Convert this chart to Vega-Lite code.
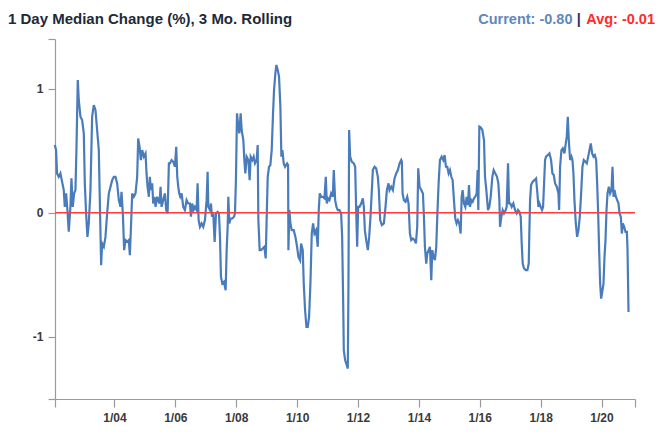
{
  "$schema": "https://vega.github.io/schema/vega-lite/v6.json",
  "width": 580,
  "height": 360,
  "autosize": {"type": "none"},
  "padding": {"left": 55, "top": 39, "right": 28, "bottom": 43},
  "background": "white",
  "config": {
    "view": {"stroke": null},
    "font": "Liberation Sans"
  },
  "layer": [
    {
      "data": {"values": [
        {"year": 2002.038, "value": 0.546}, {"year": 2002.082, "value": 0.505}, {"year": 2002.114, "value": 0.317}, {"year": 2002.169, "value": 0.290}, {"year": 2002.224, "value": 0.317}, {"year": 2002.279, "value": 0.250}, {"year": 2002.334, "value": 0.183}, {"year": 2002.367, "value": 0.048}, {"year": 2002.411, "value": 0.156}, {"year": 2002.454, "value": 0.022}, {"year": 2002.498, "value": -0.153}, {"year": 2002.553, "value": 0.048}, {"year": 2002.586, "value": 0.277}, {"year": 2002.630, "value": 0.048}, {"year": 2002.674, "value": 0.156}, {"year": 2002.718, "value": 0.183}, {"year": 2002.750, "value": 0.505}, {"year": 2002.794, "value": 1.070}, {"year": 2002.827, "value": 0.909}, {"year": 2002.882, "value": 0.774}, {"year": 2002.937, "value": 0.747}, {"year": 2002.992, "value": 0.640}, {"year": 2003.025, "value": 0.237}, {"year": 2003.068, "value": -0.005}, {"year": 2003.112, "value": -0.194}, {"year": 2003.156, "value": -0.086}, {"year": 2003.211, "value": 0.183}, {"year": 2003.266, "value": 0.774}, {"year": 2003.321, "value": 0.868}, {"year": 2003.375, "value": 0.828}, {"year": 2003.430, "value": 0.667}, {"year": 2003.485, "value": 0.505}, {"year": 2003.518, "value": 0.102}, {"year": 2003.562, "value": -0.422}, {"year": 2003.595, "value": -0.247}, {"year": 2003.650, "value": -0.274}, {"year": 2003.704, "value": -0.194}, {"year": 2003.759, "value": -0.005}, {"year": 2003.814, "value": 0.156}, {"year": 2003.869, "value": 0.210}, {"year": 2003.924, "value": 0.263}, {"year": 2003.979, "value": 0.290}, {"year": 2004.033, "value": 0.290}, {"year": 2004.088, "value": 0.237}, {"year": 2004.143, "value": 0.102}, {"year": 2004.198, "value": 0.048}, {"year": 2004.231, "value": 0.169}, {"year": 2004.275, "value": -0.005}, {"year": 2004.318, "value": -0.301}, {"year": 2004.362, "value": -0.220}, {"year": 2004.417, "value": -0.234}, {"year": 2004.472, "value": -0.220}, {"year": 2004.505, "value": -0.341}, {"year": 2004.538, "value": -0.140}, {"year": 2004.582, "value": 0.156}, {"year": 2004.636, "value": 0.129}, {"year": 2004.691, "value": 0.156}, {"year": 2004.746, "value": 0.290}, {"year": 2004.779, "value": 0.599}, {"year": 2004.823, "value": 0.532}, {"year": 2004.867, "value": 0.425}, {"year": 2004.911, "value": 0.505}, {"year": 2004.965, "value": 0.452}, {"year": 2005.020, "value": 0.478}, {"year": 2005.053, "value": 0.317}, {"year": 2005.086, "value": 0.210}, {"year": 2005.130, "value": 0.129}, {"year": 2005.163, "value": 0.290}, {"year": 2005.196, "value": 0.183}, {"year": 2005.240, "value": 0.237}, {"year": 2005.272, "value": 0.075}, {"year": 2005.316, "value": 0.129}, {"year": 2005.349, "value": 0.048}, {"year": 2005.404, "value": 0.129}, {"year": 2005.437, "value": 0.102}, {"year": 2005.481, "value": 0.075}, {"year": 2005.514, "value": 0.210}, {"year": 2005.547, "value": 0.048}, {"year": 2005.601, "value": 0.102}, {"year": 2005.656, "value": 0.156}, {"year": 2005.700, "value": 0.022}, {"year": 2005.744, "value": -0.005}, {"year": 2005.788, "value": 0.398},
        {"year": 2005.821, "value": 0.398}, {"year": 2005.876, "value": 0.425}, {"year": 2005.930, "value": 0.411}, {"year": 2005.985, "value": 0.371}, {"year": 2006.029, "value": 0.532}, {"year": 2006.062, "value": 0.290}, {"year": 2006.095, "value": 0.210}, {"year": 2006.128, "value": 0.156}, {"year": 2006.161, "value": 0.129}, {"year": 2006.205, "value": 0.156}, {"year": 2006.259, "value": 0.048}, {"year": 2006.314, "value": 0.022}, {"year": 2006.369, "value": 0.102}, {"year": 2006.424, "value": 0.075}, {"year": 2006.479, "value": 0.075}, {"year": 2006.512, "value": -0.032}, {"year": 2006.555, "value": 0.075}, {"year": 2006.599, "value": 0.022}, {"year": 2006.643, "value": 0.048}, {"year": 2006.698, "value": 0.022}, {"year": 2006.731, "value": 0.237}, {"year": 2006.764, "value": -0.059}, {"year": 2006.808, "value": -0.113}, {"year": 2006.862, "value": -0.086}, {"year": 2006.917, "value": -0.113}, {"year": 2006.972, "value": -0.059}, {"year": 2007.027, "value": 0.102}, {"year": 2007.060, "value": 0.331}, {"year": 2007.082, "value": 0.048}, {"year": 2007.137, "value": 0.022}, {"year": 2007.170, "value": 0.075}, {"year": 2007.202, "value": -0.032}, {"year": 2007.246, "value": -0.005}, {"year": 2007.290, "value": -0.234}, {"year": 2007.334, "value": -0.005}, {"year": 2007.389, "value": 0.008}, {"year": 2007.433, "value": -0.005}, {"year": 2007.466, "value": -0.194}, {"year": 2007.498, "value": -0.516}, {"year": 2007.542, "value": -0.570}, {"year": 2007.597, "value": -0.556}, {"year": 2007.652, "value": -0.624}, {"year": 2007.685, "value": -0.301}, {"year": 2007.718, "value": -0.113}, {"year": 2007.740, "value": 0.129}, {"year": 2007.773, "value": -0.086}, {"year": 2007.817, "value": -0.046}, {"year": 2007.871, "value": -0.046}, {"year": 2007.926, "value": -0.032}, {"year": 2007.959, "value": -0.005}, {"year": 2007.992, "value": 0.290}, {"year": 2008.025, "value": 0.801}, {"year": 2008.069, "value": 0.694}, {"year": 2008.102, "value": 0.640}, {"year": 2008.145, "value": 0.801}, {"year": 2008.178, "value": 0.667}, {"year": 2008.233, "value": 0.586}, {"year": 2008.266, "value": 0.425}, {"year": 2008.299, "value": 0.317}, {"year": 2008.343, "value": 0.452}, {"year": 2008.398, "value": 0.425}, {"year": 2008.441, "value": 0.263}, {"year": 2008.474, "value": 0.452}, {"year": 2008.529, "value": 0.425}, {"year": 2008.573, "value": 0.452}, {"year": 2008.617, "value": 0.398}, {"year": 2008.672, "value": 0.425}, {"year": 2008.705, "value": 0.546}, {"year": 2008.727, "value": -0.059}, {"year": 2008.770, "value": -0.301}, {"year": 2008.814, "value": -0.301}, {"year": 2008.869, "value": -0.288}, {"year": 2008.924, "value": -0.274}, {"year": 2008.968, "value": -0.368}, {"year": 2009.001, "value": -0.032}, {"year": 2009.034, "value": 0.290}, {"year": 2009.077, "value": 0.371}, {"year": 2009.121, "value": 0.384}, {"year": 2009.165, "value": 0.505}, {"year": 2009.209, "value": 0.801}, {"year": 2009.242, "value": 0.989}, {"year": 2009.286, "value": 1.124}, {"year": 2009.319, "value": 1.191}, {"year": 2009.363, "value": 1.151}, {"year": 2009.406, "value": 1.097}, {"year": 2009.450, "value": 0.855}, {"year": 2009.483, "value": 0.452}, {"year": 2009.516, "value": 0.505}, {"year": 2009.560, "value": 0.398}, {"year": 2009.604, "value": 0.371},
        {"year": 2009.670, "value": 0.398}, {"year": 2009.703, "value": 0.384}, {"year": 2009.714, "value": -0.301}, {"year": 2009.746, "value": 0.022}, {"year": 2009.779, "value": -0.086}, {"year": 2009.823, "value": -0.140}, {"year": 2009.889, "value": -0.140}, {"year": 2009.944, "value": -0.194}, {"year": 2009.999, "value": -0.274}, {"year": 2010.043, "value": -0.355}, {"year": 2010.097, "value": -0.382}, {"year": 2010.130, "value": -0.247}, {"year": 2010.185, "value": -0.301}, {"year": 2010.218, "value": -0.570}, {"year": 2010.262, "value": -0.785}, {"year": 2010.306, "value": -0.919}, {"year": 2010.350, "value": -0.919}, {"year": 2010.393, "value": -0.839}, {"year": 2010.437, "value": -0.570}, {"year": 2010.481, "value": -0.167}, {"year": 2010.525, "value": -0.086}, {"year": 2010.569, "value": -0.167}, {"year": 2010.624, "value": -0.140}, {"year": 2010.678, "value": -0.274}, {"year": 2010.711, "value": 0.022}, {"year": 2010.744, "value": 0.156}, {"year": 2010.788, "value": 0.129}, {"year": 2010.843, "value": 0.129}, {"year": 2010.898, "value": 0.116}, {"year": 2010.942, "value": 0.290}, {"year": 2010.975, "value": 0.075}, {"year": 2011.018, "value": 0.116}, {"year": 2011.062, "value": 0.102}, {"year": 2011.117, "value": 0.156}, {"year": 2011.172, "value": 0.129}, {"year": 2011.205, "value": 0.344}, {"year": 2011.249, "value": 0.102}, {"year": 2011.293, "value": 0.048}, {"year": 2011.336, "value": 0.022}, {"year": 2011.391, "value": 0.022}, {"year": 2011.446, "value": -0.005}, {"year": 2011.479, "value": -0.194}, {"year": 2011.512, "value": -0.704}, {"year": 2011.534, "value": -1.108}, {"year": 2011.578, "value": -1.188}, {"year": 2011.632, "value": -1.228}, {"year": 2011.665, "value": -1.255}, {"year": 2011.687, "value": -0.570}, {"year": 2011.709, "value": 0.667}, {"year": 2011.742, "value": 0.452}, {"year": 2011.797, "value": 0.411}, {"year": 2011.863, "value": 0.398}, {"year": 2011.907, "value": 0.371}, {"year": 2011.940, "value": 0.022}, {"year": 2011.973, "value": -0.274}, {"year": 2012.005, "value": 0.048}, {"year": 2012.049, "value": 0.048}, {"year": 2012.104, "value": 0.075}, {"year": 2012.159, "value": 0.116}, {"year": 2012.192, "value": 0.048}, {"year": 2012.225, "value": -0.140}, {"year": 2012.269, "value": -0.220}, {"year": 2012.323, "value": -0.301}, {"year": 2012.367, "value": -0.194}, {"year": 2012.411, "value": -0.032}, {"year": 2012.455, "value": 0.183}, {"year": 2012.488, "value": 0.344}, {"year": 2012.543, "value": 0.371}, {"year": 2012.597, "value": 0.358}, {"year": 2012.652, "value": 0.290}, {"year": 2012.685, "value": 0.183}, {"year": 2012.729, "value": -0.059}, {"year": 2012.784, "value": -0.099}, {"year": 2012.850, "value": -0.086}, {"year": 2012.904, "value": 0.048}, {"year": 2012.948, "value": 0.183}, {"year": 2013.003, "value": 0.237}, {"year": 2013.036, "value": 0.183}, {"year": 2013.091, "value": 0.210}, {"year": 2013.146, "value": 0.183}, {"year": 2013.200, "value": 0.277}, {"year": 2013.255, "value": 0.317}, {"year": 2013.310, "value": 0.344}, {"year": 2013.365, "value": 0.398}, {"year": 2013.420, "value": 0.425},
        {"year": 2013.442, "value": 0.411}, {"year": 2013.464, "value": 0.156}, {"year": 2013.508, "value": 0.102}, {"year": 2013.562, "value": 0.089}, {"year": 2013.617, "value": 0.129}, {"year": 2013.661, "value": 0.075}, {"year": 2013.705, "value": -0.167}, {"year": 2013.749, "value": -0.220}, {"year": 2013.804, "value": -0.207}, {"year": 2013.859, "value": -0.220}, {"year": 2013.902, "value": -0.247}, {"year": 2013.946, "value": -0.113}, {"year": 2013.979, "value": 0.358}, {"year": 2014.023, "value": 0.210}, {"year": 2014.078, "value": 0.183}, {"year": 2014.133, "value": 0.156}, {"year": 2014.166, "value": -0.032}, {"year": 2014.198, "value": -0.274}, {"year": 2014.242, "value": -0.409}, {"year": 2014.275, "value": -0.328}, {"year": 2014.319, "value": -0.301}, {"year": 2014.363, "value": -0.274}, {"year": 2014.407, "value": -0.543}, {"year": 2014.440, "value": -0.301}, {"year": 2014.484, "value": -0.355}, {"year": 2014.527, "value": -0.382}, {"year": 2014.571, "value": -0.274}, {"year": 2014.604, "value": -0.032}, {"year": 2014.648, "value": 0.237}, {"year": 2014.692, "value": 0.425}, {"year": 2014.747, "value": 0.452}, {"year": 2014.801, "value": 0.425}, {"year": 2014.845, "value": 0.465}, {"year": 2014.889, "value": 0.371}, {"year": 2014.933, "value": 0.371}, {"year": 2014.977, "value": 0.317}, {"year": 2015.021, "value": 0.344}, {"year": 2015.065, "value": 0.290}, {"year": 2015.109, "value": 0.263}, {"year": 2015.152, "value": 0.102}, {"year": 2015.196, "value": -0.046}, {"year": 2015.240, "value": -0.086}, {"year": 2015.284, "value": -0.059}, {"year": 2015.328, "value": -0.086}, {"year": 2015.372, "value": -0.167}, {"year": 2015.405, "value": 0.129}, {"year": 2015.437, "value": 0.183}, {"year": 2015.481, "value": 0.075}, {"year": 2015.525, "value": 0.048}, {"year": 2015.569, "value": 0.129}, {"year": 2015.613, "value": 0.062}, {"year": 2015.646, "value": 0.223}, {"year": 2015.679, "value": 0.048}, {"year": 2015.723, "value": 0.102}, {"year": 2015.766, "value": 0.089}, {"year": 2015.810, "value": 0.116}, {"year": 2015.854, "value": 0.129}, {"year": 2015.898, "value": 0.156}, {"year": 2015.931, "value": 0.344}, {"year": 2015.953, "value": 0.022}, {"year": 2015.986, "value": 0.694}, {"year": 2016.030, "value": 0.688}, {"year": 2016.084, "value": 0.667}, {"year": 2016.139, "value": 0.586}, {"year": 2016.172, "value": 0.290}, {"year": 2016.216, "value": 0.183}, {"year": 2016.271, "value": 0.022}, {"year": 2016.315, "value": 0.048}, {"year": 2016.359, "value": 0.129}, {"year": 2016.413, "value": 0.290}, {"year": 2016.457, "value": 0.344}, {"year": 2016.512, "value": 0.317}, {"year": 2016.567, "value": 0.290}, {"year": 2016.611, "value": 0.237}, {"year": 2016.644, "value": 0.102}, {"year": 2016.666, "value": -0.113}, {"year": 2016.709, "value": -0.032}, {"year": 2016.753, "value": 0.022}, {"year": 2016.797, "value": -0.005}, {"year": 2016.852, "value": 0.022}, {"year": 2016.885, "value": 0.048}, {"year": 2016.929, "value": 0.398}, {"year": 2016.962, "value": 0.075}, {"year": 2017.005, "value": 0.075}, {"year": 2017.049, "value": 0.048}, {"year": 2017.104, "value": 0.075}, {"year": 2017.159, "value": 0.022}, {"year": 2017.214, "value": -0.005}, {"year": 2017.258, "value": 0.022},
        {"year": 2017.302, "value": 0.008}, {"year": 2017.346, "value": -0.032}, {"year": 2017.378, "value": -0.247}, {"year": 2017.411, "value": -0.409}, {"year": 2017.455, "value": -0.449}, {"year": 2017.510, "value": -0.462}, {"year": 2017.565, "value": -0.462}, {"year": 2017.609, "value": -0.409}, {"year": 2017.631, "value": -0.140}, {"year": 2017.653, "value": 0.102}, {"year": 2017.686, "value": 0.223}, {"year": 2017.740, "value": 0.250}, {"year": 2017.795, "value": 0.263}, {"year": 2017.850, "value": 0.277}, {"year": 2017.894, "value": 0.156}, {"year": 2017.927, "value": 0.048}, {"year": 2017.960, "value": 0.075}, {"year": 2018.003, "value": 0.048}, {"year": 2018.047, "value": 0.022}, {"year": 2018.080, "value": 0.048}, {"year": 2018.113, "value": 0.237}, {"year": 2018.146, "value": 0.425}, {"year": 2018.179, "value": 0.452}, {"year": 2018.234, "value": 0.465}, {"year": 2018.289, "value": 0.478}, {"year": 2018.343, "value": 0.425}, {"year": 2018.387, "value": 0.317}, {"year": 2018.431, "value": 0.304}, {"year": 2018.475, "value": 0.237}, {"year": 2018.530, "value": 0.210}, {"year": 2018.585, "value": 0.156}, {"year": 2018.607, "value": 0.022}, {"year": 2018.639, "value": 0.371}, {"year": 2018.683, "value": 0.505}, {"year": 2018.727, "value": 0.519}, {"year": 2018.782, "value": 0.478}, {"year": 2018.826, "value": 0.559}, {"year": 2018.859, "value": 0.613}, {"year": 2018.892, "value": 0.774}, {"year": 2018.925, "value": 0.586}, {"year": 2018.968, "value": 0.425}, {"year": 2019.012, "value": 0.452}, {"year": 2019.045, "value": 0.425}, {"year": 2019.078, "value": 0.317}, {"year": 2019.111, "value": 0.102}, {"year": 2019.155, "value": -0.086}, {"year": 2019.199, "value": -0.194}, {"year": 2019.243, "value": -0.140}, {"year": 2019.286, "value": -0.032}, {"year": 2019.330, "value": 0.156}, {"year": 2019.374, "value": 0.371}, {"year": 2019.418, "value": 0.425}, {"year": 2019.473, "value": 0.411}, {"year": 2019.517, "value": 0.398}, {"year": 2019.561, "value": 0.452}, {"year": 2019.604, "value": 0.505}, {"year": 2019.648, "value": 0.559}, {"year": 2019.692, "value": 0.478}, {"year": 2019.736, "value": 0.452}, {"year": 2019.780, "value": 0.465}, {"year": 2019.824, "value": 0.425}, {"year": 2019.857, "value": 0.237}, {"year": 2019.890, "value": -0.005}, {"year": 2019.922, "value": -0.301}, {"year": 2019.955, "value": -0.570}, {"year": 2019.988, "value": -0.691}, {"year": 2020.032, "value": -0.624}, {"year": 2020.065, "value": -0.570}, {"year": 2020.098, "value": -0.355}, {"year": 2020.131, "value": -0.220}, {"year": 2020.164, "value": 0.022}, {"year": 2020.197, "value": 0.156}, {"year": 2020.240, "value": 0.210}, {"year": 2020.284, "value": 0.156}, {"year": 2020.328, "value": 0.183}, {"year": 2020.361, "value": 0.371}, {"year": 2020.394, "value": 0.129}, {"year": 2020.427, "value": 0.183}, {"year": 2020.471, "value": 0.129}, {"year": 2020.515, "value": 0.102}, {"year": 2020.558, "value": 0.075}, {"year": 2020.591, "value": -0.005}, {"year": 2020.635, "value": -0.032}, {"year": 2020.668, "value": -0.167}, {"year": 2020.701, "value": -0.086}, {"year": 2020.745, "value": -0.113}, {"year": 2020.789, "value": -0.153}, {"year": 2020.833, "value": -0.153}, {"year": 2020.855, "value": -0.301}, {"year": 2020.887, "value": -0.80}
      ]},
      "mark": {"type": "line", "color": "#4a7cbb", "strokeWidth": 2.2, "interpolate": "linear"},
      "encoding": {
        "x": {
          "field": "year",
          "type": "quantitative",
          "scale": {"domain": [2002.046, 2021.1], "nice": false, "zero": false},
          "axis": {
            "title": null,
            "values": [2002.046, 2004, 2006, 2008, 2010, 2012, 2014, 2016, 2018, 2020, 2021.1],
            "labelExpr": "datum.value % 2 == 0 ? '1/' + substring(toString(datum.value), 2, 4) : ''",
            "grid": false,
            "domainColor": "#9a9a9a",
            "domainWidth": 1.2,
            "tickColor": "#9a9a9a",
            "tickWidth": 1.2,
            "tickSize": 8,
            "labelPadding": 5,
            "labelFont": "Liberation Sans",
            "labelFontSize": 12,
            "labelFontWeight": "bold",
            "labelColor": "#3a3a3a",
            "labelFlush": false,
            "labelOverlap": false
          }
        },
        "y": {
          "field": "value",
          "type": "quantitative",
          "scale": {"domain": [-1.5, 1.4], "nice": false, "zero": false},
          "axis": {
            "title": null,
            "values": [-1.5, -1, 0, 1, 1.4],
            "labelExpr": "(datum.value == -1 || datum.value == 0 || datum.value == 1) ? toString(datum.value) : ''",
            "grid": false,
            "domainColor": "#9a9a9a",
            "domainWidth": 1.2,
            "tickColor": "#9a9a9a",
            "tickWidth": 1.2,
            "tickSize": 7,
            "labelPadding": 5,
            "labelFont": "Liberation Sans",
            "labelFontSize": 12,
            "labelFontWeight": "bold",
            "labelColor": "#3a3a3a",
            "labelFlush": false,
            "labelOverlap": false
          }
        }
      }
    },
    {
      "data": {"values": [{}]},
      "mark": {"type": "rule", "color": "#ff3b3b", "strokeWidth": 1.5},
      "encoding": {"y": {"datum": 0}}
    },
    {
      "data": {"values": [{}]},
      "mark": {"type": "text", "text": "1 Day Median Change (%), 3 Mo. Rolling", "align": "left", "baseline": "alphabetic", "dx": -47, "dy": -15, "font": "Liberation Sans", "fontSize": 15, "fontWeight": "bold", "color": "#1e2a38"},
      "encoding": {"x": {"datum": 2002.046}, "y": {"datum": 1.4}}
    },
    {
      "data": {"values": [{}]},
      "mark": {"type": "text", "text": "Current: -0.80", "align": "right", "baseline": "alphabetic", "dx": -62.5, "dy": -15, "font": "Liberation Sans", "fontSize": 14.5, "fontWeight": "bold", "color": "#6187bd"},
      "encoding": {"x": {"datum": 2021.1}, "y": {"datum": 1.4}}
    },
    {
      "data": {"values": [{}]},
      "mark": {"type": "text", "text": "|", "align": "center", "baseline": "alphabetic", "dx": -56.3, "dy": -15, "font": "Liberation Sans", "fontSize": 14.5, "fontWeight": "bold", "color": "#2a3550"},
      "encoding": {"x": {"datum": 2021.1}, "y": {"datum": 1.4}}
    },
    {
      "data": {"values": [{}]},
      "mark": {"type": "text", "text": "Avg: -0.01", "align": "right", "baseline": "alphabetic", "dx": 20, "dy": -15, "font": "Liberation Sans", "fontSize": 14.5, "fontWeight": "bold", "color": "#ff2b2b"},
      "encoding": {"x": {"datum": 2021.1}, "y": {"datum": 1.4}}
    }
  ]
}
